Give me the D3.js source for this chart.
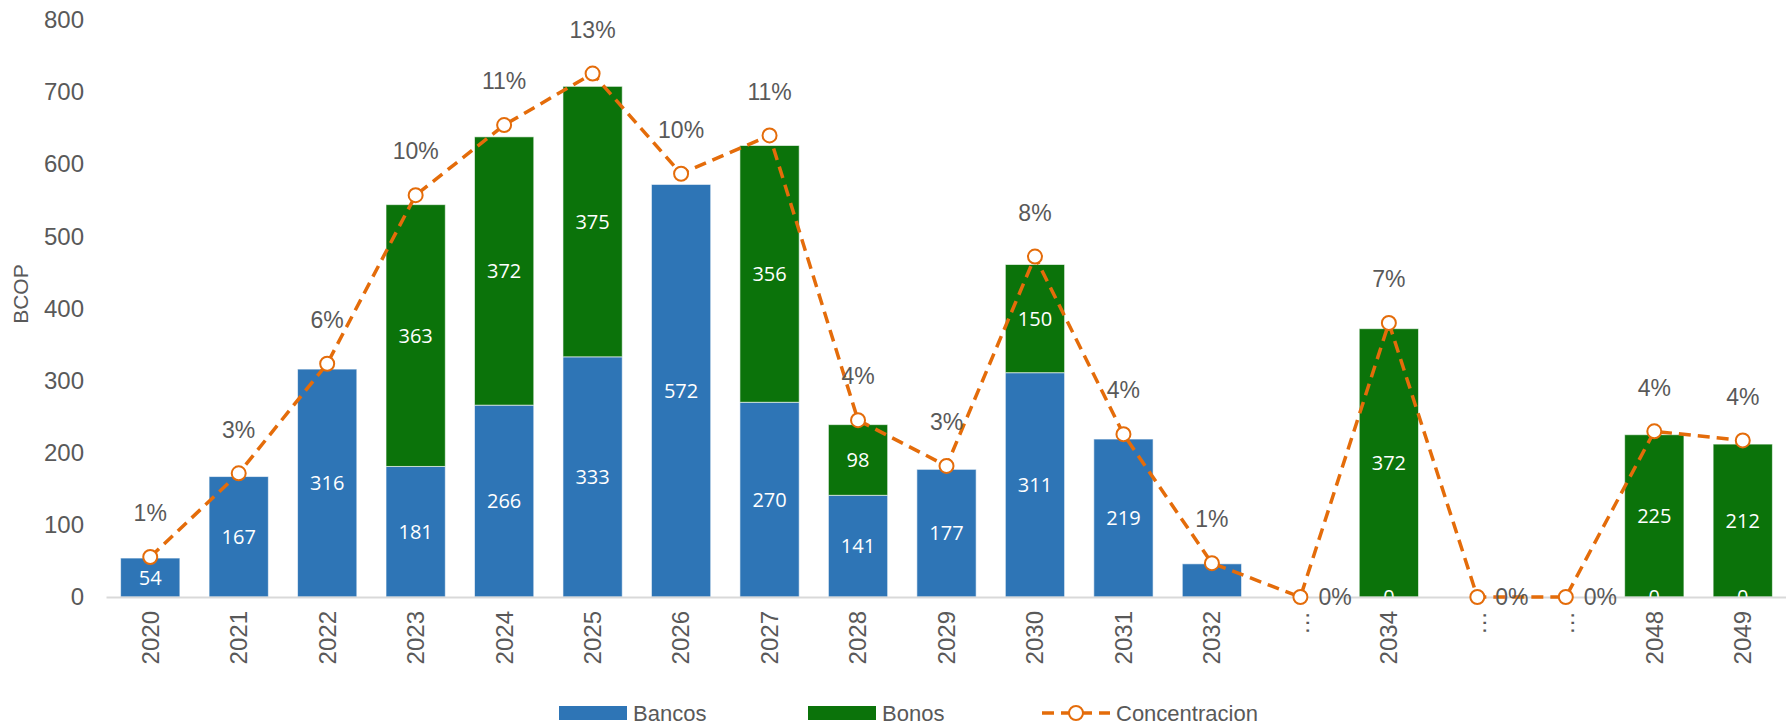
<!DOCTYPE html>
<html>
<head>
<meta charset="utf-8">
<script src="https://cdn.jsdelivr.net/npm/d3@7"></script>
<style>
  body { margin: 0; background: #fff; }
  text { font-family: "Liberation Sans", Arial, sans-serif; }
</style>
</head>
<body>
<svg id="container" width="1786" height="725"></svg>
<script>
(function (d3) {
  'use strict';

  // categories on the x axis ("…" = years left out)
  const years = ['2020', '2021', '2022', '2023', '2024', '2025', '2026', '2027', '2028',
    '2029', '2030', '2031', '2032', '…a', '2034', '…b', '…c', '2048', '2049'];

  // BCOP
  const bancos = [54, 167, 316, 181, 266, 333, 572, 270, 141, 177, 311, 219, 46, 0, 0, 0, 0, 0, 0];
  const bonos = [null, null, null, 363, 372, 375, null, 356, 98, null, 150, null, null, null, 372, null, null, 225, 212];

  // share of the total (secondary axis, hidden)
  const concentracion = [0.0097, 0.030, 0.0566, 0.0975, 0.1145, 0.127, 0.1027, 0.112, 0.0429,
    0.0318, 0.0826, 0.0395, 0.0082, 0, 0.0665, 0, 0, 0.0402, 0.038];

  const yTicks = [0, 100, 200, 300, 400, 500, 600, 700, 800];

  const BLUE = '#2E75B6';
  const GREEN = '#0B730A';
  const ORANGE = '#E46C0A';
  const GREY = '#595959';

  const svg = d3.select('#container');

  const x = d3.scaleBand().domain(years).range([106, 1787]).paddingInner(0.33).paddingOuter(0.165);
  const y = d3.scaleLinear().domain([0, 800]).range([597, 20]);
  const y2 = d3.scaleLinear().domain([0, 0.14]).range([597, 20]);
  const cx = (i) => x(years[i]) + x.bandwidth() / 2;
  const showName = (c) => c.startsWith('…') ? '…' : c;

  // one row per category
  const rows = years.map((year, i) => ({
    i,
    year,
    bancos: bancos[i],
    bonos: bonos[i],
    conc: concentracion[i]
  }));

  // y axis (no line, no ticks)
  const yAxis = svg.append('g')
    .attr('transform', 'translate(84,0)')
    .call(d3.axisLeft(y).tickValues(yTicks).tickSize(0).tickPadding(0));
  yAxis.select('.domain').remove();
  yAxis.selectAll('text')
    .attr('fill', GREY)
    .style('font-size', '24px')
    .style('font-family', '"Liberation Sans", Arial, sans-serif');

  svg.append('text')
    .attr('transform', 'translate(28,' + y(420) + ') rotate(-90)')
    .attr('text-anchor', 'middle')
    .attr('fill', GREY)
    .style('font-size', '21px')
    .text('BCOP');

  // bars
  const bars = svg.append('g');
  bars.selectAll('rect.bancos')
    .data(rows.filter((r) => r.bancos > 0))
    .enter()
    .append('rect')
    .attr('class', 'bancos')
    .attr('x', (r) => x(r.year))
    .attr('width', x.bandwidth())
    .attr('y', (r) => y(r.bancos))
    .attr('height', (r) => y(0) - y(r.bancos))
    .attr('fill', BLUE)
    .attr('stroke', 'rgba(255,255,255,0.6)')
    .attr('stroke-width', 1);

  bars.selectAll('rect.bonos')
    .data(rows.filter((r) => r.bonos))
    .enter()
    .append('rect')
    .attr('class', 'bonos')
    .attr('x', (r) => x(r.year))
    .attr('width', x.bandwidth())
    .attr('y', (r) => y(r.bancos + r.bonos))
    .attr('height', (r) => y(0) - y(r.bonos))
    .attr('fill', GREEN)
    .attr('stroke', 'rgba(255,255,255,0.6)')
    .attr('stroke-width', 1);

  // labels in the bars (2032 has none in the original; "0" sits on the baseline)
  const labelFont = '"Open Sans", "Noto Sans", sans-serif';
  svg.append('g').selectAll('text')
    .data(rows.filter((r) => !r.year.startsWith('…') && (r.bancos === 0 || r.bancos >= 50)))
    .enter()
    .append('text')
    .attr('x', (r) => cx(r.i))
    .attr('y', (r) => y(r.bancos / 2))
    .attr('dy', '0.36em')
    .attr('text-anchor', 'middle')
    .attr('fill', '#fff')
    .style('font-family', labelFont)
    .style('font-size', '20px')
    .text((r) => r.bancos);

  svg.append('g').selectAll('text')
    .data(rows.filter((r) => r.bonos))
    .enter()
    .append('text')
    .attr('x', (r) => cx(r.i))
    .attr('y', (r) => y(r.bancos + r.bonos / 2))
    .attr('dy', '0.36em')
    .attr('text-anchor', 'middle')
    .attr('fill', '#fff')
    .style('font-family', labelFont)
    .style('font-size', '20px')
    .text((r) => r.bonos);

  // x axis (drawn over the bar labels)
  const xAxis = svg.append('g')
    .attr('transform', 'translate(0,' + y(0) + ')')
    .call(d3.axisBottom(x).tickSize(0).tickFormat(showName));
  xAxis.select('.domain').attr('stroke', '#d9d9d9').attr('stroke-width', 2);
  xAxis.selectAll('text')
    .attr('fill', GREY)
    .style('font-size', '24px')
    .style('font-family', '"Liberation Sans", Arial, sans-serif')
    .attr('transform', 'rotate(-90)')
    .attr('text-anchor', 'end')
    .attr('dy', '0.35em')
    .attr('x', -14)
    .attr('y', 0);

  // concentration line
  const line = d3.line()
    .x((r) => cx(r.i))
    .y((r) => y2(r.conc));

  svg.append('path')
    .datum(rows)
    .attr('d', line)
    .attr('fill', 'none')
    .attr('stroke', ORANGE)
    .attr('stroke-width', 3.5)
    .attr('stroke-dasharray', '12,7');

  svg.append('g').selectAll('circle')
    .data(rows)
    .enter()
    .append('circle')
    .attr('cx', (r) => cx(r.i))
    .attr('cy', (r) => y2(r.conc))
    .attr('r', 7)
    .attr('fill', '#fff')
    .attr('stroke', ORANGE)
    .attr('stroke-width', 2);

  svg.append('g').selectAll('text')
    .data(rows)
    .enter()
    .append('text')
    .attr('x', (r) => r.conc === 0 ? cx(r.i) + 18 : cx(r.i))
    .attr('y', (r) => r.conc === 0 ? y2(0) : y2(r.conc) - 44)
    .attr('dy', '0.36em')
    .attr('text-anchor', (r) => r.conc === 0 ? 'start' : 'middle')
    .attr('fill', GREY)
    .style('font-size', '23px')
    .text((r) => d3.format('.0%')(r.conc));

  // legend
  const legend = svg.append('g').attr('transform', 'translate(0,713)');
  const items = [
    { name: 'Bancos', color: BLUE, x: 559, type: 'rect' },
    { name: 'Bonos', color: GREEN, x: 808, type: 'rect' },
    { name: 'Concentracion', color: ORANGE, x: 1042, type: 'line' }
  ];
  items.forEach((it) => {
    if (it.type === 'rect') {
      legend.append('rect').attr('x', it.x).attr('y', -7).attr('width', 68).attr('height', 14).attr('fill', it.color);
    } else {
      legend.append('line').attr('x1', it.x).attr('x2', it.x + 68).attr('y1', 0).attr('y2', 0)
        .attr('stroke', it.color).attr('stroke-width', 3.5).attr('stroke-dasharray', '12,7');
      legend.append('circle').attr('cx', it.x + 34).attr('cy', 0).attr('r', 7)
        .attr('fill', '#fff').attr('stroke', it.color).attr('stroke-width', 2);
    }
    legend.append('text')
      .attr('x', it.x + 74)
      .attr('dy', '0.36em')
      .attr('fill', GREY)
      .style('font-size', '22px')
      .text(it.name);
  });

}(d3));
</script>
</body>
</html>
